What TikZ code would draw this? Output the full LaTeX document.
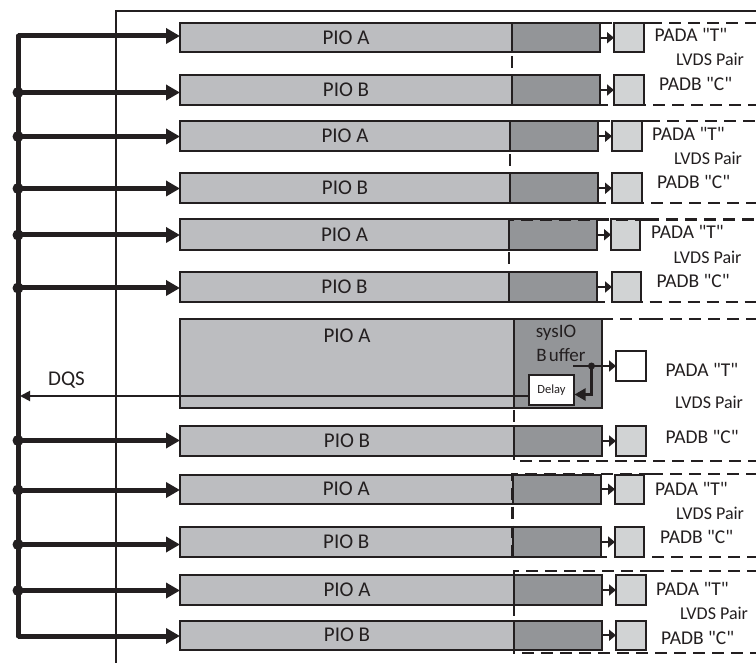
\documentclass[tikz,border=0pt]{standalone}
\usepackage{fontspec}
\newfontfamily\carl{Carlito}
\AtBeginDocument{\carl}
\usetikzlibrary{arrows.meta}
\definecolor{ink}{HTML}{231F20}
\definecolor{lite}{HTML}{BCBDC0}
\definecolor{dark}{HTML}{939598}
\definecolor{padc}{HTML}{D1D3D4}
\tikzset{
  x=1pt,y=-1pt,
  boxx/.style={draw=ink,line width=2pt,inner sep=0pt,outer sep=0pt,text=ink},
  bus/.style={draw=ink,line width=5pt},
  busarrow/.style={draw=ink,line width=5pt,-{Triangle[length=14pt,width=15pt]}},
  smallarrow/.style={draw=ink,line width=2pt,-{Triangle[length=7pt,width=11pt]}},
  dashreg/.style={draw=ink,line width=2.4pt,dash pattern=on 12pt off 7pt},
  pio/.style={text=ink,font=\fontsize{21}{21}\selectfont},
  lab/.style={text=ink,inner sep=0pt,anchor=west,font=\fontsize{19.5}{20}\selectfont},
  lvds/.style={text=ink,inner sep=0pt,anchor=west,font=\fontsize{18}{18}\selectfont},
  dotn/.style={circle,fill=ink,inner sep=0pt,minimum size=11pt},
}
% name, y1, y2, xdark, xend, label
\newcommand\pioBody[6]{%
  \node[boxx,fill=lite,minimum width={(#4-180)*1pt},minimum height={(#3-#2)*1pt},pio]
    (#1l) at ({(180+#4)/2},{(#2+#3)/2}) {#6};
  \node[boxx,fill=dark,minimum width={(#5-#4)*1pt},minimum height={(#3-#2)*1pt}]
    (#1d) at ({(#4+#5)/2},{(#2+#3)/2}) {};
}
% name, y1, y2, x1, x2, colour
\newcommand\pioPad[6]{%
  \node[boxx,fill=#6,minimum width={(#5-#4)*1pt},minimum height={(#3-#2)*1pt}]
    (#1p) at ({(#4+#5)/2},{(#2+#3)/2}) {};
}
\newcommand\pioRow[8]{\pioBody{#1}{#2}{#3}{#4}{#5}{#8}\pioPad{#1}{#2}{#3}{#6}{#7}{padc}}
% top, bottom, left x, x where the dash sequence starts
\newcommand\dashRegion[4]{%
  \draw[dashreg] (#4,#1) -- (756,#1);
  \draw[dashreg] (#4,#1) -- (#3,#1) -- (#3,#2) -- (756,#2);
}
\begin{document}
\begin{tikzpicture}
\useasboundingbox (0,0) rectangle (756,663);
\fill[white] (0,0) rectangle (756,663);
% frame
\draw[ink,line width=2pt] (115.5,663) -- (115.5,11) -- (756,11);
% rows
\pioRow{a}{23}{52.5}{512}{599.5}{614}{644}{PIO A}
\pioRow{b}{75}{105}{512}{599.5}{614}{644}{PIO B}
\pioRow{c}{121.5}{151}{510}{597.5}{612}{642}{PIO A}
\pioRow{e}{173.5}{203}{510}{598}{612}{642}{PIO B}
\pioRow{f}{219.5}{250}{509}{597}{611}{640}{PIO A}
\pioRow{g}{272}{302}{509}{597}{612}{641}{PIO B}
\pioBody{h}{319.5}{408.5}{514}{602}{}
\pioPad{h}{351}{381}{616}{646}{white}
\pioRow{i}{426}{456}{514}{601.5}{616}{646}{PIO B}
\pioRow{j}{474.5}{504}{512.5}{600.5}{615}{644}{PIO A}
\pioRow{k}{527}{557}{512.5}{600.5}{615}{644}{PIO B}
\pioRow{m}{575}{605}{514}{601.5}{616}{646}{PIO A}
\pioRow{n}{620.5}{650}{514}{601.5}{616}{646}{PIO B}
% dashed regions
\dashRegion{23}{105}{512}{650}
\dashRegion{121}{203}{510}{648}
\dashRegion{219.5}{302}{509}{647}
\dashRegion{319}{461}{514}{651}
\dashRegion{474}{557}{512.5}{651}
\dashRegion{571}{653}{514}{652}
% bus
\coordinate (b1) at (18,36);
\coordinate (b2) at (18,92.5);
\coordinate (b3) at (18,136.5);
\coordinate (b4) at (18,188.5);
\coordinate (b5) at (18,235);
\coordinate (b6) at (18,288);
\coordinate (b8) at (18,440.5);
\coordinate (b9) at (18,490);
\coordinate (b10) at (18,544.5);
\coordinate (b11) at (18,590.5);
\coordinate (b12) at (18,636);
\draw[bus,line cap=round] (b1) -- (b12);
\foreach \c/\r in {b1/a,b2/b,b3/c,b4/e,b5/f,b6/g,b8/i,b9/j,b10/k,b11/m,b12/n}
  \draw[busarrow] (\c) -- (\c -| \r l.west);
\foreach \c in {b2,b3,b4,b5,b6,b8,b9,b10,b11}
  \node[dotn] at (\c) {};
% small arrows
\foreach \r in {a,b,c,e,f,g,i,j,k,m,n}
  \draw[smallarrow] (\r d.east) -- (\r p.west);
% big row text
\node[pio] (pioh) at (347,335.5) {PIO A};
\node[pio,font=\fontsize{19}{19}\selectfont] (sysio) at (556,332.5) {sysIO};
\node[pio,font=\fontsize{19}{19}\selectfont] (buf) at (561,355) {B\kern2pt uffer};
% delay
\node[boxx,fill=white,minimum width=45pt,minimum height=30pt,font=\fontsize{12.5}{12.5}\selectfont] (delay) at (551.5,390) {Delay};
\coordinate (st) at (573,366);
\node[circle,fill=ink,inner sep=0pt,minimum size=7pt] (jn) at (591.5,366) {};
\draw[smallarrow] (st) -- (st -| hp.west);
\coordinate (rt) at (574.5,394.5);
\draw[draw=ink,line width=2.2pt,-{Triangle[length=11pt,width=12pt]}] (jn.center) |- (rt);
\coordinate (dqs) at (20,396);
\draw[draw=ink,line width=1.9pt,-{Triangle[length=10pt,width=10pt]}] (dqs -| delay.west) -- (dqs);
\node[pio] (dqsl) at (66.5,380) {DQS};
% labels
\node[lab] (t1) at (654.5,35) {PADA "T"};
\node[lvds] (v1) at (676,59.5) {LVDS Pair};
\node[lab] (t2) at (659,84) {PADB "C"};
\node[lab] (t3) at (652,133.5) {PADA "T"};
\node[lvds] (v3) at (674,158) {LVDS Pair};
\node[lab] (t4) at (657,182) {PADB "C"};
\node[lab] (t5) at (651,231.5) {PADA "T"};
\node[lvds] (v5) at (673.5,257) {LVDS Pair};
\node[lab] (t6) at (656.5,281) {PADB "C"};
\node[lab] (t7) at (665.5,370) {PADA "T"};
\node[lvds] (v7) at (675,402.5) {LVDS Pair};
\node[lab] (t8) at (665.5,437) {PADB "C"};
\node[lab] (t9) at (655,488.5) {PADA "T"};
\node[lvds] (v9) at (676,513) {LVDS Pair};
\node[lab] (t10) at (660,537) {PADB "C"};
\node[lab] (t11) at (656,589) {PADA "T"};
\node[lvds] (v11) at (680,613) {LVDS Pair};
\node[lab] (t12) at (661,638) {PADB "C"};
\end{tikzpicture}
\end{document}
